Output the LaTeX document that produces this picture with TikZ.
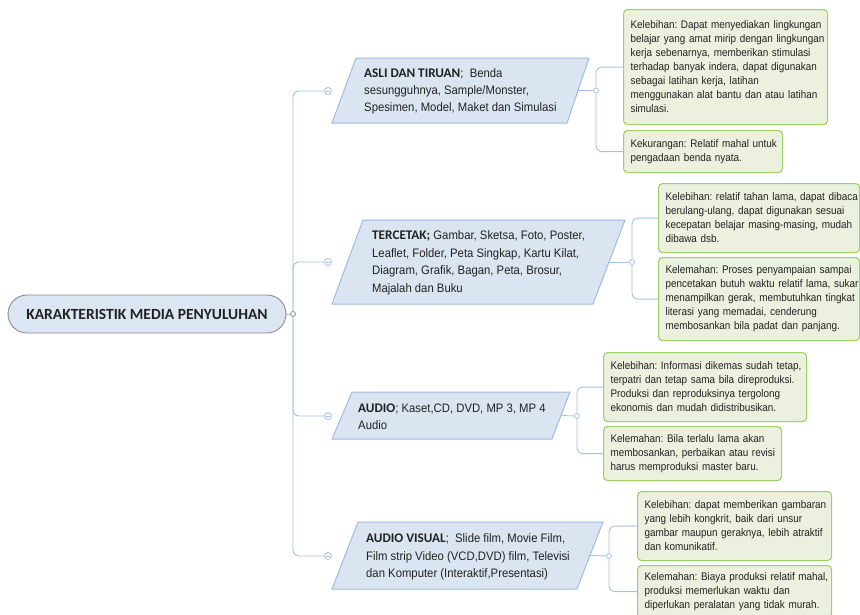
\documentclass[tikz,border=0pt]{standalone}
\usepackage{fontspec}
\setmainfont{Liberation Sans}
\newfontfamily\narrowfont[FakeStretch=0.92]{Liberation Sans}
\newfontfamily\gfontfam[FakeStretch=0.9]{Liberation Sans}
\newfontfamily\calfont{Carlito}
\frenchspacing
\definecolor{lineblue}{HTML}{A4C2E8}
\definecolor{pfill}{HTML}{DBE5F1}
\definecolor{pdraw}{HTML}{9EBCE3}
\definecolor{gfill}{HTML}{EBF1DE}
\definecolor{gdraw}{HTML}{9CD166}
\definecolor{rootfill}{HTML}{DCE6F2}
\definecolor{rootdraw}{HTML}{8C8C8C}
\definecolor{txt}{HTML}{222222}
\newcommand{\hd}[1]{{\calfont\bfseries\fontsize{13.2}{16.7}\selectfont #1}}
\begin{document}
\frenchspacing
\begin{tikzpicture}[x=1pt,y=-1pt,
  rootbox/.style={draw=rootdraw, fill=rootfill, rounded corners=19, minimum width=278, minimum height=38, inner sep=0, line width=0.9, text=txt, font={\calfont\bfseries\fontsize{15.5}{18}\selectfont}},
  para/.style={draw=pdraw, fill=pfill, line width=1},
  ptext/.style={anchor=west, align=left, inner sep=0, text=txt},
  gbox/.style={draw=gdraw, fill=gfill, rounded corners=4, line width=1.1, inner xsep=7, inner ysep=0, align=left, anchor=north west, text=txt, font={\gfontfam\fontsize{11}{14}\selectfont}},
  conn/.style={draw=lineblue, line width=0.9, rounded corners=6},
  mcirc/.style={circle, draw=lineblue, fill=white, minimum size=7, inner sep=0, line width=0.8,
     path picture={\draw[lineblue, line width=0.7] ([xshift=-1.8pt]path picture bounding box.center) -- ([xshift=1.8pt]path picture bounding box.center);}},
  scirc/.style={circle, draw=lineblue, fill=white, minimum size=5, inner sep=0, line width=0.8}
]
\useasboundingbox (0,0) rectangle (860,614);
\fill[white] (0,0) rectangle (860,614);

% root
\node[rootbox] (root) at (147,314) {KARAKTERISTIK MEDIA PENYULUHAN};
\node[scirc, draw=rootdraw] (j0) at (293,314) {};

% parallelograms
\draw[para] (356,58) -- (589,58) -- (567,123) -- (332,123) -- cycle;
\coordinate (p1e) at (578,90.5);
\node[ptext, font={\narrowfont\fontsize{12.3}{16.7}\selectfont}] (t1) at (364,91.5)
  {\hd{ASLI DAN TIRUAN};~ Benda\\sesungguhnya, Sample/Monster,\\Spesimen, Model, Maket dan Simulasi};

\draw[para] (363,220) -- (625,220) -- (593,304) -- (332,304) -- cycle;
\coordinate (p2e) at (609,262);
\node[ptext, font={\narrowfont\fontsize{12.3}{17.5}\selectfont}] (t2) at (372,263)
  {\hd{TERCETAK;} Gambar, Sketsa, Foto, Poster,\\Leaflet, Folder, Peta Singkap, Kartu Kilat,\\Diagram, Grafik, Bagan, Peta, Brosur,\\Majalah dan Buku};

\draw[para] (352,392) -- (570,392) -- (552,439) -- (332,439) -- cycle;
\coordinate (p3e) at (561,415.5);
\node[ptext, font={\narrowfont\fontsize{12.3}{16.7}\selectfont}] (t3) at (358,417)
  {\hd{AUDIO}; Kaset,CD, DVD, MP 3, MP 4\\Audio};

\draw[para] (358,522) -- (603,522) -- (577,589) -- (332,589) -- cycle;
\coordinate (p4e) at (590,555.5);
\node[ptext, font={\narrowfont\fontsize{12.3}{17.5}\selectfont}] (t4) at (366,557)
  {\hd{AUDIO VISUAL};~ Slide film, Movie Film,\\Film strip Video (VCD,DVD) film, Televisi\\dan Komputer (Interaktif,Presentasi)};

% minus circles
\node[mcirc] (c1) at (328,91) {};
\node[mcirc] (c2) at (328,262) {};
\node[mcirc] (c3) at (328,416) {};
\node[mcirc] (c4) at (328,556) {};

% trunk
\draw[conn] (root) -- (j0);
\draw[conn] (j0) |- (c1);
\draw[conn] (j0) |- (c2);
\draw[conn] (j0) |- (c3);
\draw[conn] (j0) |- (c4);

% right junction circles
\node[scirc] (r1) at (596,90.5) {};
\node[scirc] (r2) at (632,262) {};
\node[scirc] (r3) at (577,416) {};
\node[scirc] (r4) at (609,556) {};
\draw[conn] (p1e) -- (r1);
\draw[conn] (p2e) -- (r2);
\draw[conn] (p3e) -- (r3);
\draw[conn] (p4e) -- (r4);

% green boxes
\node[gbox, minimum width=204, minimum height=115, text width=190] (g11) at (623,9)
  {\mbox{Kelebihan: Dapat menyediakan lingkungan}\\\mbox{belajar yang amat mirip dengan lingkungan}\\\mbox{kerja sebenarnya, memberikan stimulasi}\\\mbox{terhadap banyak indera, dapat digunakan}\\\mbox{sebagai latihan kerja, latihan}\\\mbox{menggunakan alat bantu dan atau latihan}\\\mbox{simulasi.}};
\node[gbox, minimum width=159, minimum height=42, text width=145] (g12) at (623,130)
  {\mbox{Kekurangan: Relatif mahal untuk}\\\mbox{pengadaan benda nyata.}};

\node[gbox, minimum width=201, minimum height=69, text width=187] (g21) at (658,183)
  {\mbox{Kelebihan: relatif tahan lama, dapat dibaca}\\\mbox{berulang-ulang, dapat digunakan sesuai}\\\mbox{kecepatan belajar masing-masing, mudah}\\\mbox{dibawa dsb.}};
\node[gbox, minimum width=201, minimum height=83, text width=187] (g22) at (658,257)
  {\mbox{Kelemahan: Proses penyampaian sampai}\\\mbox{pencetakan butuh waktu relatif lama, sukar}\\\mbox{menampilkan gerak, membutuhkan tingkat}\\\mbox{literasi yang memadai, cenderung}\\\mbox{membosankan bila padat dan panjang.}};

\node[gbox, minimum width=203, minimum height=69, text width=189] (g31) at (603,352)
  {\mbox{Kelebihan: Informasi dikemas sudah tetap,}\\\mbox{terpatri dan tetap sama bila direproduksi.}\\\mbox{Produksi dan reproduksinya tergolong}\\\mbox{ekonomis dan mudah didistribusikan.}};
\node[gbox, minimum width=178, minimum height=54, text width=164] (g32) at (603,426)
  {\mbox{Kelemahan: Bila terlalu lama akan}\\\mbox{membosankan, perbaikan atau revisi}\\\mbox{harus memproduksi master baru.}};

\node[gbox, minimum width=194, minimum height=69, text width=180] (g41) at (637,491)
  {\mbox{Kelebihan: dapat memberikan gambaran}\\\mbox{yang lebih kongkrit, baik dari unsur}\\\mbox{gambar maupun geraknya, lebih atraktif}\\\mbox{dan komunikatif.}};
\node[gbox, minimum width=194, minimum height=52, text width=180] (g42) at (637,565)
  {\mbox{Kelemahan: Biaya produksi relatif mahal,}\\\mbox{produksi memerlukan waktu dan}\\\mbox{diperlukan peralatan yang tidak murah.}};

% brackets
\draw[conn] (r1) |- (g11);
\draw[conn] (r1) |- (g12);
\draw[conn] (r2) |- (g21);
\draw[conn] (r2) |- (g22);
\draw[conn] (r3) |- (g31);
\draw[conn] (r3) |- (g32);
\draw[conn] (r4) |- (g41);
\draw[conn] (r4) |- (g42);
\end{tikzpicture}
\end{document}
